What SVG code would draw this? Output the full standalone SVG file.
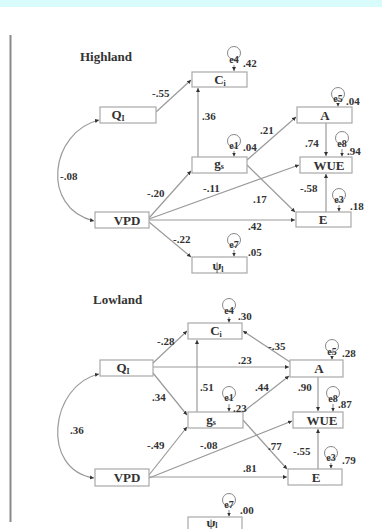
<svg xmlns="http://www.w3.org/2000/svg" width="382" height="529" viewBox="0 0 382 529">
<style>
.box{fill:#fff;stroke:#a8a8a8;stroke-width:1.2}
.nt{font-family:"Liberation Serif",serif;font-weight:bold;font-size:13px;fill:#333;text-anchor:middle}
.sub{font-size:8px}
.lb{font-family:"Liberation Serif",serif;font-weight:bold;font-size:11px;fill:#333}
.tt{font-family:"Liberation Serif",serif;font-weight:bold;font-size:13px;fill:#333}
.et{font-family:"Liberation Serif",serif;font-weight:bold;font-size:10px;fill:#333;text-anchor:middle}
.ln{fill:none;stroke:#9a9a9a;stroke-width:1.2;marker-end:url(#ah)}
.bi{fill:none;stroke:#9a9a9a;stroke-width:1.2;marker-end:url(#ah);marker-start:url(#ah)}
.ec{fill:none;stroke:#888;stroke-width:1}
</style>
<defs>
<marker id="ah" markerUnits="userSpaceOnUse" markerWidth="4" markerHeight="4" refX="4" refY="2" orient="auto-start-reverse">
<path d="M0,0 L4,2 L0,4 z" fill="#333"/>
</marker>
</defs>
<rect x="0" y="0" width="382" height="7" fill="#d8fbfb"/>
<line x1="10.5" y1="35" x2="10.5" y2="522" stroke="#8a8a8a" stroke-width="2"/>

<text class="tt" x="80" y="61">Highland</text>
<text class="tt" x="93" y="304">Lowland</text>

<g id="connectors">
<!-- Highland -->
<path class="ln" d="M156,112 L191,80"/>
<path class="ln" d="M198,157 L198,88"/>
<path class="ln" d="M247,160 L296,117"/>
<path class="ln" d="M326,123 L326,156"/>
<path class="ln" d="M326,212 L326,174"/>
<path class="ln" d="M247,165 L295,212"/>
<path class="ln" d="M149,218 L191,171"/>
<path class="ln" d="M149,219 L299,165"/>
<path class="ln" d="M149,220 L295,220"/>
<path class="ln" d="M149,222 L191,257"/>
<path class="bi" d="M99,120 C50,132 40,208 94,221"/>
<!-- Highland errors -->
<path class="ln" d="M234,65 L234,71"/>
<path class="ln" d="M338,103 L338,106.5"/>
<path class="ln" d="M234,151 L234,156.5"/>
<path class="ln" d="M342,149 L342,156.5"/>
<path class="ln" d="M339,205 L339,211.5"/>
<path class="ln" d="M234,250 L234,256.5"/>
<!-- Lowland -->
<path class="ln" d="M153,363 L187,331"/>
<path class="ln" d="M153,367 L289,367"/>
<path class="ln" d="M290,362 L243,331"/>
<path class="ln" d="M153,373 L187,415"/>
<path class="ln" d="M197,412 L197,340"/>
<path class="ln" d="M243,412 L289,376"/>
<path class="ln" d="M318,377 L318,411"/>
<path class="ln" d="M318,469 L318,429"/>
<path class="ln" d="M243,420 L287,469"/>
<path class="ln" d="M149,475 L187,427"/>
<path class="ln" d="M149,478 L292,421"/>
<path class="ln" d="M149,477 L287,477"/>
<path class="bi" d="M99,374 C50,385 40,470 94,478"/>
<!-- Lowland errors -->
<path class="ln" d="M229,317 L229,322.5"/>
<path class="ln" d="M332,356 L332,359.5"/>
<path class="ln" d="M229,404 L229,411.5"/>
<path class="ln" d="M333,404 L333,411.5"/>
<path class="ln" d="M331,463 L331,468.5"/>
<path class="ln" d="M229,510 L229,516.5"/>
</g>

<g id="labels">
<text class="lb" x="152" y="97">-.55</text>
<text class="lb" x="202" y="120">.36</text>
<text class="lb" x="260" y="134">.21</text>
<text class="lb" x="305" y="147">.74</text>
<text class="lb" x="60" y="180">-.08</text>
<text class="lb" x="147" y="197">-.20</text>
<text class="lb" x="203" y="192">-.11</text>
<text class="lb" x="253" y="203">.17</text>
<text class="lb" x="300" y="192">-.58</text>
<text class="lb" x="248" y="230">.42</text>
<text class="lb" x="173" y="243">-.22</text>
<text class="lb" x="157" y="345">-.28</text>
<text class="lb" x="238" y="364">.23</text>
<text class="lb" x="268" y="350">-.35</text>
<text class="lb" x="200" y="391">.51</text>
<text class="lb" x="152" y="401">.34</text>
<text class="lb" x="255" y="391">.44</text>
<text class="lb" x="298" y="391">.90</text>
<text class="lb" x="147" y="449">-.49</text>
<text class="lb" x="200" y="449">-.08</text>
<text class="lb" x="268" y="450">.77</text>
<text class="lb" x="293" y="455">-.55</text>
<text class="lb" x="243" y="472">.81</text>
<text class="lb" x="70" y="434">.36</text>
</g>

<!-- Highland nodes -->
<g id="h_Ci"><rect class="box" x="192" y="72" width="55" height="15"/><text class="nt" x="220" y="84">C<tspan class="sub" dy="2">i</tspan></text></g>
<g id="h_Q1"><rect class="box" x="100" y="107" width="56" height="16"/><text class="nt" x="118" y="119">Q<tspan class="sub" dy="2">I</tspan></text></g>
<g id="h_gs"><rect class="box" x="192" y="157" width="55" height="16"/><text class="nt" x="219" y="168">g<tspan class="sub" dy="1">s</tspan></text></g>
<g id="h_A"><rect class="box" x="297" y="107" width="55" height="16"/><text class="nt" x="325" y="120">A</text></g>
<g id="h_WUE"><rect class="box" x="300" y="157" width="52" height="16"/><text class="nt" x="329" y="170">WUE</text></g>
<g id="h_VPD"><rect class="box" x="95" y="212" width="54" height="16"/><text class="nt" x="127" y="225">VPD</text></g>
<g id="h_E"><rect class="box" x="296" y="212" width="55" height="15"/><text class="nt" x="323" y="224">E</text></g>
<g id="h_psi"><rect class="box" x="192" y="257" width="55" height="16"/><text class="nt" x="218" y="270">ψ<tspan class="sub" dy="2">l</tspan></text></g>
<g id="h_e4"><circle class="ec" cx="234" cy="53" r="6.5"/><text class="et" x="234" y="63">e4</text><text class="lb" x="243" y="67">.42</text></g>
<g id="h_e5"><circle class="ec" cx="338" cy="94" r="6.5"/><text class="et" x="338" y="102">e5</text><text class="lb" x="346" y="105">.04</text></g>
<g id="h_e1"><circle class="ec" cx="234" cy="141" r="6.5"/><text class="et" x="234" y="149">e1</text><text class="lb" x="243" y="151">.04</text></g>
<g id="h_e8"><circle class="ec" cx="342" cy="138" r="6.5"/><text class="et" x="342" y="147">e8</text><text class="lb" x="347" y="155">.94</text></g>
<g id="h_e3"><circle class="ec" cx="339" cy="195" r="6.5"/><text class="et" x="339" y="203">e3</text><text class="lb" x="350" y="210">.18</text></g>
<g id="h_e7"><circle class="ec" cx="234" cy="240" r="6.5"/><text class="et" x="234" y="248">e7</text><text class="lb" x="248" y="256">.05</text></g>

<!-- Lowland nodes -->
<g id="l_Ci"><rect class="box" x="188" y="323" width="54" height="16"/><text class="nt" x="216" y="335">C<tspan class="sub" dy="2">i</tspan></text></g>
<g id="l_Q1"><rect class="box" x="100" y="360" width="53" height="16"/><text class="nt" x="123" y="372">Q<tspan class="sub" dy="2">I</tspan></text></g>
<g id="l_A"><rect class="box" x="290" y="360" width="53" height="17"/><text class="nt" x="319" y="373">A</text></g>
<g id="l_gs"><rect class="box" x="188" y="412" width="55" height="16"/><text class="nt" x="211" y="424">g<tspan class="sub" dy="1">s</tspan></text></g>
<g id="l_WUE"><rect class="box" x="293" y="412" width="50" height="16"/><text class="nt" x="322" y="425">WUE</text></g>
<g id="l_VPD"><rect class="box" x="95" y="469" width="54" height="17"/><text class="nt" x="127" y="482">VPD</text></g>
<g id="l_E"><rect class="box" x="288" y="469" width="54" height="16"/><text class="nt" x="316" y="482">E</text></g>
<g id="l_psi"><rect class="box" x="188" y="517" width="54" height="16"/><text class="nt" x="212" y="527">ψ<tspan class="sub" dy="1">l</tspan></text></g>
<g id="l_e4"><circle class="ec" cx="229" cy="305" r="6.5"/><text class="et" x="229" y="314">e4</text><text class="lb" x="238" y="320">.30</text></g>
<g id="l_e5"><circle class="ec" cx="332" cy="346" r="6.5"/><text class="et" x="332" y="355">e5</text><text class="lb" x="342" y="357">.28</text></g>
<g id="l_e1"><circle class="ec" cx="229" cy="393" r="6.5"/><text class="et" x="229" y="401">e1</text><text class="lb" x="233" y="412">.23</text></g>
<g id="l_e8"><circle class="ec" cx="333" cy="393" r="6.5"/><text class="et" x="333" y="402">e8</text><text class="lb" x="338" y="408">.87</text></g>
<g id="l_e3"><circle class="ec" cx="331" cy="453" r="6.5"/><text class="et" x="331" y="461">e3</text><text class="lb" x="342" y="464">.79</text></g>
<g id="l_e7"><circle class="ec" cx="229" cy="500" r="6.5"/><text class="et" x="229" y="508">e7</text><text class="lb" x="240" y="514">.00</text></g>
</svg>
